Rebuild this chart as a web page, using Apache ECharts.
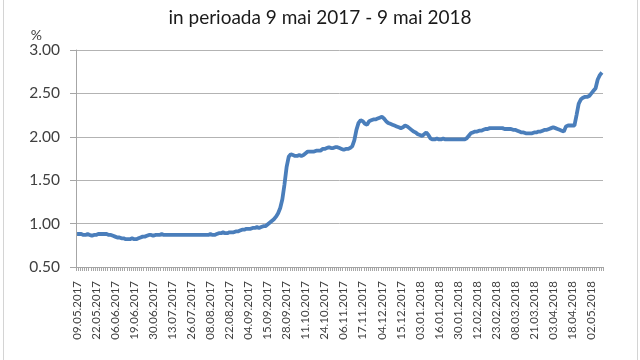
<!DOCTYPE html>
<html>
<head>
<meta charset="utf-8">
<script src="https://cdn.jsdelivr.net/npm/echarts@6/dist/echarts.min.js"></script>
<style>html,body{margin:0;padding:0;background:#fff}#c{width:640px;height:360px}</style>
</head>
<body>
<div id="c"></div>
<script>
// Period and bank holidays used to build the business-day categories
var startDate = '2017-05-09';
var endDate = '2018-05-09';
var holidays = ['2017-06-01','2017-06-05','2017-08-15','2017-11-30','2017-12-01','2017-12-25','2017-12-26',
  '2018-01-01','2018-01-02','2018-01-24','2018-04-06','2018-04-09','2018-05-01'];

var titleText = 'in perioada 9 mai 2017 - 9 mai 2018';
var yTicks = [0.5, 1.0, 1.5, 2.0, 2.5, 3.0];

// Daily values (%), one per business day
var values = [
  0.88,0.88,0.88,0.87,0.87,0.88,0.87,0.86,0.87,0.87,0.88,0.88,0.88,0.88,0.88,0.87,
  0.87,0.86,0.85,0.84,0.84,0.83,0.83,
  0.82,0.82,0.82,0.83,0.82,0.82,0.83,
  0.84,0.85,0.85,0.86,0.87,0.87,0.86,
  0.87,0.87,0.87,0.88,0.87,0.87,0.87,0.87,0.87,0.87,0.87,0.87,0.87,0.87,0.87,0.87,0.87,0.87,0.87,0.87,0.87,0.87,0.87,0.87,0.87,0.87,0.88,0.87,0.87,
  0.88,0.89,0.89,0.90,0.89,0.89,0.90,0.90,
  0.90,0.91,0.91,0.92,0.93,0.93,0.94,0.94,0.94,
  0.95,0.95,0.96,0.95,0.96,0.97,0.97,
  0.99,1.01,1.03,1.05,1.08,1.12,1.18,
  1.28,1.45,1.65,1.77,1.80,
  1.79,1.78,1.78,1.79,1.78,1.79,1.81,
  1.83,1.83,1.83,1.83,1.84,1.84,1.84,
  1.86,1.86,1.87,1.88,1.87,1.87,1.88,1.88,1.87,
  1.86,1.85,1.86,1.86,1.87,1.89,
  1.96,2.08,2.16,2.19,2.18,
  2.15,2.14,2.18,2.19,2.20,2.20,2.21,2.22,
  2.23,2.21,2.18,2.16,2.15,2.14,2.13,
  2.12,2.11,2.10,2.11,2.13,2.12,2.10,
  2.08,2.06,2.05,2.03,2.02,2.01,
  2.03,2.05,2.02,1.98,
  1.97,1.97,1.98,1.97,1.97,1.98,1.97,1.97,1.97,1.97,1.97,1.97,1.97,1.97,1.97,1.97,1.98,2.01,
  2.04,2.05,2.06,2.06,2.07,2.07,2.08,2.09,
  2.09,2.10,2.10,2.10,2.10,2.10,2.10,2.10,2.09,2.09,2.09,2.09,
  2.08,2.08,2.07,2.06,2.05,2.05,2.04,
  2.04,2.04,2.04,2.05,2.05,2.06,2.06,2.07,
  2.08,2.08,2.09,2.10,2.11,2.10,2.09,2.08,2.07,
  2.06,2.12,2.13,2.13,2.13,2.13,
  2.25,2.38,2.43,2.45,2.46,
  2.46,2.47,2.50,2.53,2.56,2.66,2.71,2.74
];

function pad(n){ return (n < 10 ? '0' : '') + n; }
var categories = [];
(function(){
  var d = new Date(startDate + 'T00:00:00Z');
  var e = new Date(endDate + 'T00:00:00Z');
  while (d <= e) {
    var iso = d.getUTCFullYear() + '-' + pad(d.getUTCMonth()+1) + '-' + pad(d.getUTCDate());
    var wd = d.getUTCDay();
    if (wd !== 0 && wd !== 6 && holidays.indexOf(iso) < 0) {
      categories.push(pad(d.getUTCDate()) + '.' + pad(d.getUTCMonth()+1) + '.' + d.getUTCFullYear());
    }
    d = new Date(d.getTime() + 86400000);
  }
})();

var chart = echarts.init(document.getElementById('c'), null, {renderer:'canvas'});
var font = 'Lato, "Open Sans", sans-serif';
chart.setOption({
  animation: false,
  backgroundColor: '#ffffff',
  title: {
    text: titleText,
    left: 'center',
    top: 3,
    textStyle: {fontFamily: font, fontSize: 19, fontWeight: 'normal', color: '#1a1a1a'}
  },
  graphic: [
    {type:'line', shape:{x1:3.5,y1:0,x2:3.5,y2:360}, style:{stroke:'#d4d4d4', lineWidth:1}},
    {type:'line', shape:{x1:637.5,y1:0,x2:637.5,y2:360}, style:{stroke:'#d4d4d4', lineWidth:1}}
  ],
  grid: {left: 76, right: 37, top: 50, bottom: 93, containLabel: false},
  xAxis: {
    type: 'category',
    data: categories,
    boundaryGap: true,
    axisLine: {show: true, lineStyle: {color: '#a6a6a6', width: 1}},
    axisTick: {show: true, interval: 0, length: 4, lineStyle: {color: '#a6a6a6'}},
    axisLabel: {interval: 8, rotate: 90, margin: 14, fontFamily: font, fontSize: 11.5, color: '#404040'},
    splitLine: {show: false}
  },
  yAxis: {
    type: 'value',
    min: yTicks[0],
    max: yTicks[yTicks.length-1],
    interval: 0.5,
    name: '%',
    nameLocation: 'end',
    nameGap: 8,
    nameTextStyle: {fontFamily: font, fontSize: 14, color: '#404040', align: 'right', padding: [0, 34, 0, 0]},
    axisLine: {show: true, lineStyle: {color: '#a6a6a6', width: 1}},
    axisTick: {show: true, length: 6, lineStyle: {color: '#a6a6a6'}},
    axisLabel: {margin: 16, fontFamily: font, fontSize: 15.5, color: '#404040', formatter: function(v){ return v.toFixed(2); }},
    splitLine: {show: true, lineStyle: {color: '#b3b3b3', width: 1}}
  },
  series: [{
    type: 'line',
    data: values,
    symbol: 'none',
    smooth: false,
    lineStyle: {color: '#4a7ebb', width: 3.8},
    itemStyle: {color: '#4a7ebb'}
  }]
});
</script>
</body>
</html>
